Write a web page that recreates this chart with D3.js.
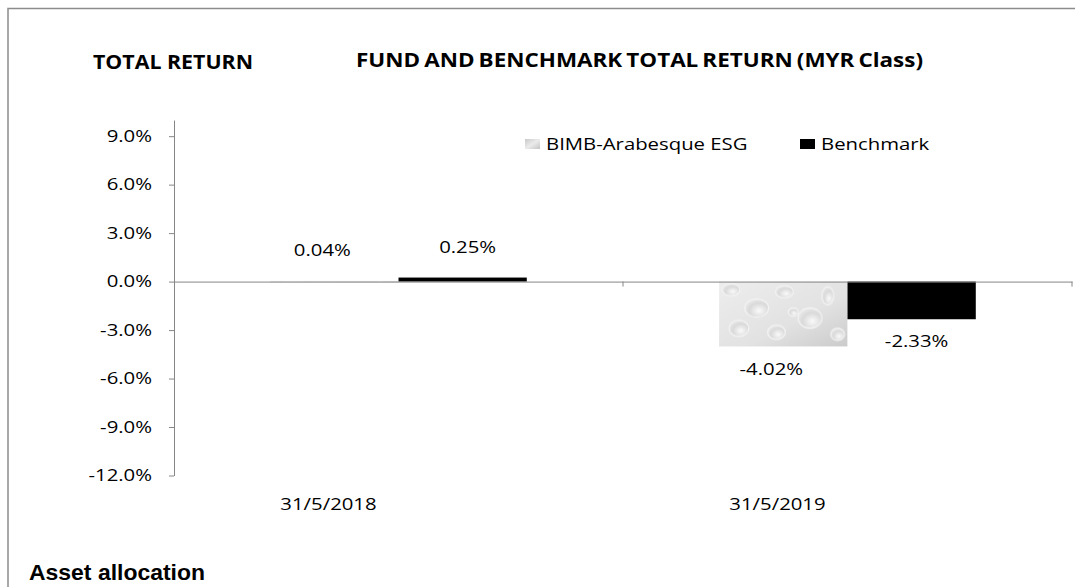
<!DOCTYPE html>
<html>
<head>
<meta charset="utf-8">
<script src="https://cdn.jsdelivr.net/npm/d3@7"></script>
<style>
  body { margin: 0; background: #fff; }
  svg text { font-family: "Open Sans", sans-serif; fill: #000; }
  .axis path, .axis line { stroke: #868686; }
  .axis text { font-size: 16px; }
</style>
</head>
<body>
<div id="chart"></div>
<script>
// Chart data
const categories = ["31/5/2018", "31/5/2019"];
const series = ["BIMB-Arabesque ESG", "Benchmark"];
const fundValues = [0.04, -4.02];
const benchValues = [0.25, -2.33];
const yTicks = [-12, -9, -6, -3, 0, 3, 6, 9];

const w = 1075, h = 587;
const stretchX = 1.27; // the reference text is drawn wide

let data = [];
categories.forEach((c, i) => {
    data.push({cat: c, series: series[0], value: fundValues[i]});
    data.push({cat: c, series: series[1], value: benchValues[i]});
});

let svg = d3.select("#chart")
    .append("svg")
    .attr("width", w)
    .attr("height", h);

// Texture for the fund bars (light grey with water drops), one tile per bar
const defs = svg.append("defs");
const grad = defs.append("linearGradient")
    .attr("id", "fundGrad")
    .attr("x1", "0%").attr("y1", "0%")
    .attr("x2", "100%").attr("y2", "100%");
grad.append("stop").attr("offset", "0%").attr("stop-color", "#ededed");
grad.append("stop").attr("offset", "60%").attr("stop-color", "#e2e2e2");
grad.append("stop").attr("offset", "100%").attr("stop-color", "#cbcbcb");

const dropGrad = defs.append("radialGradient")
    .attr("id", "dropGrad")
    .attr("cx", "60%").attr("cy", "65%").attr("r", "60%");
dropGrad.append("stop").attr("offset", "0%").attr("stop-color", "#fafafa");
dropGrad.append("stop").attr("offset", "70%").attr("stop-color", "#d9d9d9");
dropGrad.append("stop").attr("offset", "100%").attr("stop-color", "#e6e6e6");

const pat = defs.append("pattern")
    .attr("id", "fundTex")
    .attr("patternUnits", "objectBoundingBox")
    .attr("width", 1).attr("height", 1)
    .attr("viewBox", "0 0 130 64")
    .attr("preserveAspectRatio", "none");
pat.append("rect").attr("width", 130).attr("height", 64).attr("fill", "url(#fundGrad)");
[[12, 8, 9, 6], [38, 26, 12, 9], [66, 10, 9, 6], [92, 36, 12, 10], [20, 46, 10, 8],
 [58, 50, 9, 7], [110, 14, 6, 9], [120, 52, 7, 6], [75, 30, 5, 4]].forEach(e => {
    pat.append("ellipse")
        .attr("cx", e[0]).attr("cy", e[1])
        .attr("rx", e[2]).attr("ry", e[3])
        .attr("fill", "url(#dropGrad)")
        .attr("stroke", "#f4f4f4")
        .attr("stroke-width", 1.2);
});

const legGrad = defs.append("linearGradient")
    .attr("id", "legGrad")
    .attr("x1", "0%").attr("y1", "0%")
    .attr("x2", "100%").attr("y2", "100%");
legGrad.append("stop").attr("offset", "0%").attr("stop-color", "#c8c8c8");
legGrad.append("stop").attr("offset", "50%").attr("stop-color", "#ebebeb");
legGrad.append("stop").attr("offset", "100%").attr("stop-color", "#c4c4c4");

const colors = {
    "BIMB-Arabesque ESG": "url(#fundTex)",
    "Benchmark": "#000"
};

// Outer frame (top and left edges)
svg.append("path")
    .attr("d", "M8," + (h + 1) + "V8.5H" + (w + 1))
    .attr("fill", "none")
    .attr("stroke", "#8c8c8c")
    .attr("stroke-width", 1.5);

// Scales
const xScale = d3.scaleBand()
    .domain(categories)
    .range([174, 1072]);

const xSub = d3.scaleBand()
    .domain(series)
    .range([0, xScale.bandwidth()])
    .paddingOuter(0.75);

const yScale = d3.scaleLinear()
    .domain([-12, 10])
    .range([475.5, 120]);

// Y axis
const yAxis = d3.axisLeft(yScale)
    .tickValues(yTicks)
    .tickSize(5)
    .tickSizeOuter(0)
    .tickPadding(17)
    .tickFormat(d => d.toFixed(1) + "%");

svg.append("g")
    .attr("class", "axis")
    .attr("transform", "translate(174,0)")
    .call(yAxis);

// Bars
svg.append("g")
    .selectAll("rect")
    .data(data)
    .join("rect")
        .attr("x", d => xScale(d.cat) + xSub(d.series))
        .attr("width", xSub.bandwidth())
        .attr("y", d => yScale(Math.max(0, d.value)))
        .attr("height", d => Math.max(1.5, Math.abs(yScale(d.value) - yScale(0))))
        .attr("fill", d => colors[d.series]);

// X axis along zero
const xAxis = d3.axisBottom(xScale)
    .tickValues([])
    .tickSizeOuter(0);

const xg = svg.append("g")
    .attr("class", "axis")
    .attr("transform", "translate(0," + yScale(0) + ")")
    .call(xAxis);

// boundary ticks between categories
const bounds = categories.map(c => xScale(c)).concat([xScale.range()[1]]);
xg.selectAll(".bound")
    .data(bounds.slice(1))
    .join("line")
        .attr("class", "bound")
        .attr("x1", d => d).attr("x2", d => d)
        .attr("y1", 0).attr("y2", 5);

// Category labels
svg.append("g")
    .selectAll("text")
    .data(categories)
    .join("text")
        .attr("class", "wide")
        .attr("x", d => xScale(d) + xScale.bandwidth() / 2 - 70)
        .attr("y", 510)
        .attr("text-anchor", "middle")
        .attr("font-size", 16)
        .text(d => d);

// Value labels
svg.append("g")
    .selectAll("text")
    .data(data)
    .join("text")
        .attr("class", "wide")
        .attr("x", d => xScale(d.cat) + xSub(d.series) + xSub.bandwidth() / 2 + (d.series === series[0] ? -12 : 5))
        .attr("y", d => d.value >= 0 ? yScale(d.value) - 25 : yScale(d.value) + 28)
        .attr("text-anchor", "middle")
        .attr("font-size", 16)
        .text(d => d.value.toFixed(2) + "%");

// Legend
const legend = svg.append("g")
    .selectAll("g")
    .data(series)
    .join("g")
        .attr("transform", (d, i) => "translate(" + [525, 800][i] + ",139)");

legend.append("rect")
    .attr("width", 15)
    .attr("height", 10)
    .attr("fill", (d, i) => i === 0 ? "url(#legGrad)" : "#000");

legend.append("text")
    .attr("class", "wide")
    .attr("x", 21)
    .attr("y", 11)
    .attr("font-size", 16)
    .text(d => d);

// Titles
svg.append("text")
    .attr("x", 93)
    .attr("y", 69)
    .attr("font-size", 19)
    .attr("font-weight", "bold")
    .attr("textLength", 160)
    .attr("lengthAdjust", "spacingAndGlyphs")
    .text("TOTAL RETURN");

svg.append("text")
    .attr("x", 356)
    .attr("y", 67)
    .attr("font-size", 19)
    .attr("font-weight", "bold")
    .attr("word-spacing", "-1.5px")
    .attr("textLength", 567)
    .attr("lengthAdjust", "spacingAndGlyphs")
    .text("FUND AND BENCHMARK TOTAL RETURN (MYR Class)");

svg.append("text")
    .attr("x", 29)
    .attr("y", 580)
    .attr("font-size", 22)
    .attr("font-weight", "bold")
    .attr("textLength", 176)
    .attr("lengthAdjust", "spacingAndGlyphs")
    .style("font-family", "'Liberation Sans', Arial, sans-serif")
    .text("Asset allocation");

// widen the regular text like the reference
svg.selectAll(".axis text").classed("wide", true);
svg.selectAll("text.wide").each(function() {
    const len = this.getComputedTextLength();
    d3.select(this)
        .attr("textLength", len * stretchX)
        .attr("lengthAdjust", "spacingAndGlyphs");
});
</script>
</body>
</html>
